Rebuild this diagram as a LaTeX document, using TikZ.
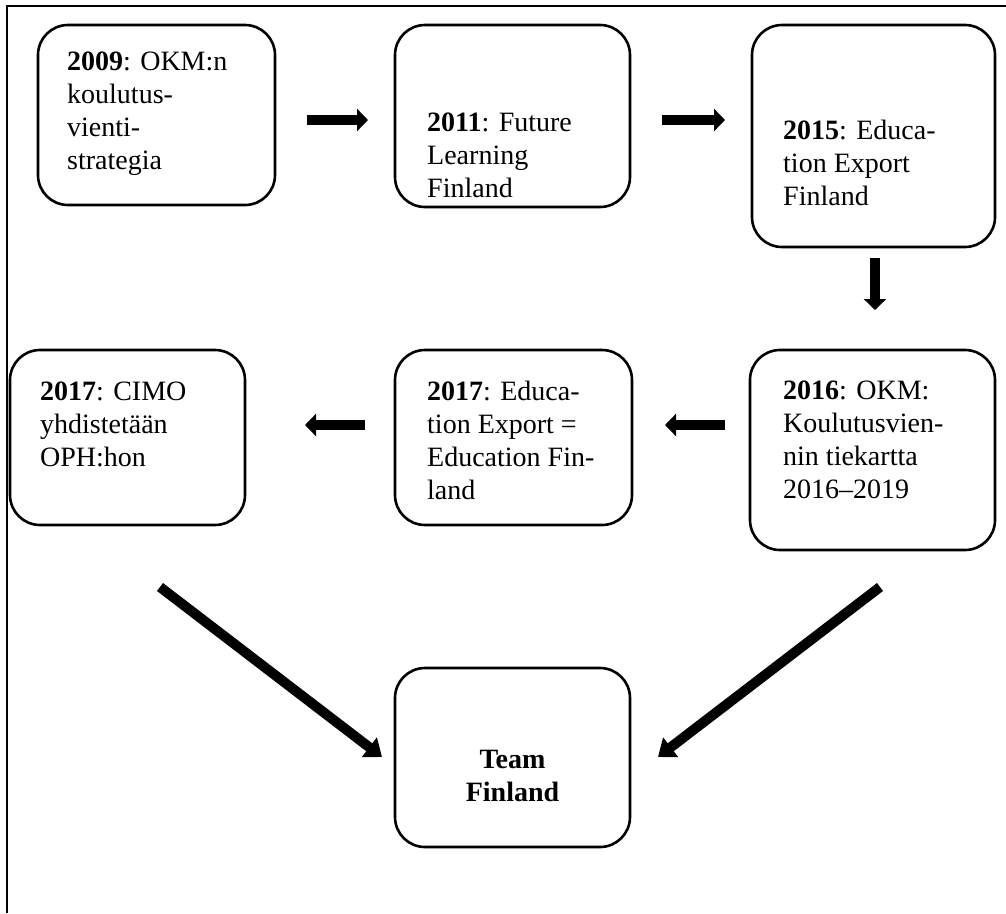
\documentclass[tikz,border=0pt]{standalone}
\usepackage{fontspec}
\setmainfont{Liberation Serif}
\usetikzlibrary{arrows.meta}
\tikzset{
  box/.style={draw, line width=2.6pt, rounded corners=30pt, inner sep=0pt},
  txt/.style={anchor=north west, align=left, inner sep=0pt, font=\fontsize{28}{33}\selectfont},
  blockarrow/.style={line width=10pt, -{Triangle[width=22pt,length=11pt]}},
  diagarrow/.style={line width=10pt, -{Triangle[width=24pt,length=16pt]}},
  frame/.style={line width=1.6pt}
}
\begin{document}
\begin{tikzpicture}[x=1pt,y=-1pt]
\useasboundingbox (0,0) rectangle (1006,913);
% frame (top and left only)
\draw[frame] (1006,6) -- (7,6) -- (7,913);
% boxes
\node[box, minimum width=237pt, minimum height=180pt] (b1) at (156.5,115) {};
\node[box, minimum width=235pt, minimum height=182pt] (b2) at (512.5,116) {};
\node[box, minimum width=243pt, minimum height=222pt] (b3) at (873.5,136) {};
\node[box, minimum width=245pt, minimum height=200pt] (b4) at (872.5,450) {};
\node[box, minimum width=237pt, minimum height=175pt] (b5) at (513.5,437.5) {};
\node[box, minimum width=235pt, minimum height=175pt] (b6) at (127.5,437.5) {};
\node[box, minimum width=235pt, minimum height=179pt] (b7) at (512.5,757.5) {};
% texts
\node[txt] (t1) at (67,52) {\textbf{2009}: OKM:n\\koulutus-\\vienti-\\strategia};
\node[txt] (t2) at (427,113) {\textbf{2011}: Future\\Learning\\Finland};
\node[txt] (t3) at (783,120) {\textbf{2015}: Educa-\\tion Export\\Finland};
\node[txt] (t4) at (783,381) {\textbf{2016}: OKM:\\Koulutusvien-\\nin tiekartta\\2016–2019};
\node[txt] (t5) at (427,381) {\textbf{2017}: Educa-\\tion Export =\\Education Fin-\\land};
\node[txt] (t6) at (40,382) {\textbf{2017}: CIMO\\yhdistetään\\OPH:hon};
\node[txt, anchor=center, align=center, font=\fontsize{28}{33}\selectfont\bfseries] (t7) at (512.5,776) {Team\\Finland};
% arrow end points
\coordinate (a1s) at (307,120); \coordinate (a1e) at (368,120);
\coordinate (a2s) at (662,120); \coordinate (a2e) at (725,120);
\coordinate (a3s) at (875,258); \coordinate (a3e) at (875,310);
\coordinate (a4s) at (725,425); \coordinate (a4e) at (665,425);
\coordinate (a5s) at (365,425); \coordinate (a5e) at (305,425);
\coordinate (a6s) at (160,587); \coordinate (a6e) at (382,757);
\coordinate (a7s) at (880,587); \coordinate (a7e) at (658,757);
\draw[blockarrow] (a1s) -- (a1e);
\draw[blockarrow] (a2s) -- (a2e);
\draw[blockarrow] (a3s) -- (a3e);
\draw[blockarrow] (a4s) -- (a4e);
\draw[blockarrow] (a5s) -- (a5e);
\draw[diagarrow] (a6s) -- (a6e);
\draw[diagarrow] (a7s) -- (a7e);
\end{tikzpicture}
\end{document}
